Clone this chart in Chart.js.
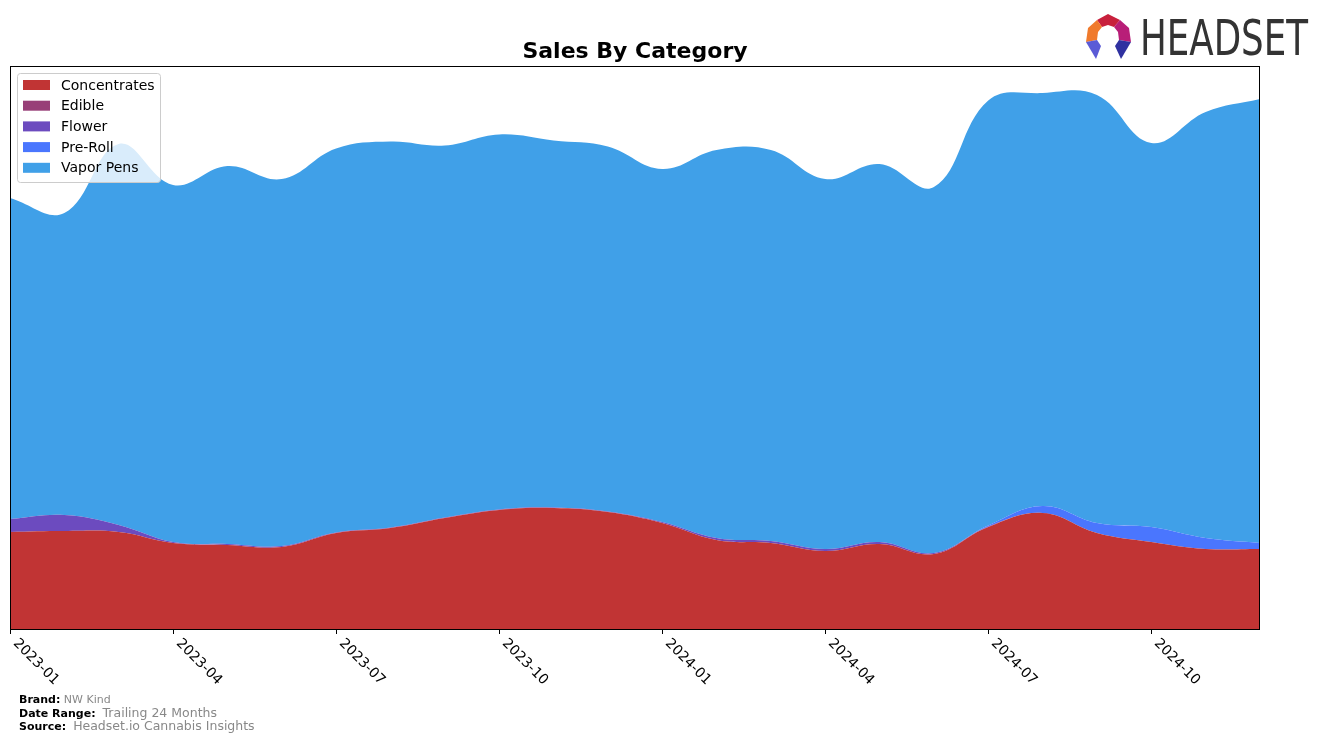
<!DOCTYPE html>
<html>
<head>
<meta charset="utf-8">
<script src="https://cdn.jsdelivr.net/npm/chart.js@4.4.1/dist/chart.umd.min.js"></script>
<style>
  body { margin: 0; background: #fff; font-family: "DejaVu Sans", sans-serif; }
  #wrap { position: relative; width: 1324px; height: 743px; }
  #logo { position: absolute; left: 0; top: 0; }
  .foot { position: absolute; left: 19px; font-size: 11px; color: #000; white-space: nowrap; }
  .foot b { font-weight: bold; }
  .foot span { color: #888; }
</style>
</head>
<body>
<div id="wrap">
  <canvas id="chart" width="1324" height="743"></canvas>
  <svg id="logo" width="1324" height="70">
    <polygon points="1097,20 1108,14 1120,20 1114,27 1108,25 1102,27" fill="#c8203c"/>
    <polygon points="1097,20 1088,28 1086,42 1097,40 1098,32 1102,27" fill="#f07a2c"/>
    <polygon points="1120,20 1129,28 1131,42 1119,40 1118,32 1114,27" fill="#b81e78"/>
    <polygon points="1086,42 1097,40 1101,46 1096,59" fill="#5b5bd6"/>
    <polygon points="1131,42 1119,40 1115,46 1121,59" fill="#2f31a0"/>
    <text x="1140" y="55" font-family="DejaVu Sans" font-size="49" fill="#333" textLength="168" lengthAdjust="spacingAndGlyphs">HEADSET</text>
  </svg>
  <div class="foot" style="top:693px"><b>Brand:</b> <span>NW Kind</span></div>
  <div class="foot" style="top:705px"><b>Date Range:</b>&nbsp; <span style="font-size:12.5px">Trailing 24 Months</span></div>
  <div class="foot" style="top:718px"><b>Source:</b>&nbsp; <span style="font-size:12.5px">Headset.io Cannabis Insights</span></div>
</div>
<script>
// months on the x axis
const months = ['2023-01','2023-02','2023-03','2023-04','2023-05','2023-06','2023-07','2023-08','2023-09','2023-10','2023-11','2023-12',
                '2024-01','2024-02','2024-03','2024-04','2024-05','2024-06','2024-07','2024-08','2024-09','2024-10','2024-11','2024-12'];
const tickLabels = ['2023-01','2023-04','2023-07','2023-10','2024-01','2024-04','2024-07','2024-10'];

// sales by category (relative units)
const concentrates = [97, 98, 97, 86, 84, 82, 96, 101, 111, 119, 121, 117, 106, 89, 86, 78, 85, 75, 102, 116, 96, 87, 80, 80];
const edible       = [0, 0, 0, 0, 0, 0, 0, 0, 0, 0, 0, 0, 0, 0, 0, 0, 0, 0, 0, 0, 0, 0, 0, 0];
const flower       = [13, 16, 7, 1, 1, 1, 0.5, 0.5, 0.5, 0.5, 0.5, 0.5, 1, 2, 2, 2, 2, 1, 0.5, 0, 0, 0, 0, 0];
const preRoll      = [0, 0, 0, 0, 0, 0, 0, 0, 0, 0, 0, 0, 0, 0, 0, 0, 0, 0, 1, 7, 10, 15, 11, 6];
const vaporPens    = [321, 302, 381, 357, 378, 367, 384, 386, 372, 375, 367, 365, 353, 388, 391, 370, 378, 366, 425, 413, 428, 384, 426, 444];

const categories = ['Concentrates', 'Edible', 'Flower', 'Pre-Roll', 'Vapor Pens'];
const colors = ['#c13434', '#983f78', '#6c4bbf', '#4a76fe', '#40a0e8'];
const series = [concentrates, edible, flower, preRoll, vaporPens];

const datasets = series.map((d, i) => ({
  label: categories[i],
  data: d,
  backgroundColor: colors[i],
  borderColor: colors[i],
  borderWidth: 0,
  pointRadius: 0,
  tension: 0.4,
  fill: i === 0 ? 'origin' : '-1'
}));

const decor = {
  id: 'decor',
  afterDraw(chart) {
    const ctx = chart.ctx;
    const a = chart.chartArea;
    const x = chart.scales.x;
    ctx.save();
    // frame
    ctx.strokeStyle = '#000';
    ctx.lineWidth = 1;
    ctx.strokeRect(a.left + 0.5, a.top + 0.5, a.right - a.left - 1, a.bottom - a.top);
    // title
    ctx.fillStyle = '#000';
    ctx.font = 'bold 22px "DejaVu Sans"';
    ctx.textAlign = 'center';
    ctx.textBaseline = 'alphabetic';
    ctx.fillText('Sales By Category', (a.left + a.right) / 2, 58);
    // x ticks and rotated labels
    ctx.font = '14px "DejaVu Sans"';
    ctx.textAlign = 'left';
    ctx.textBaseline = 'top';
    tickLabels.forEach(lbl => {
      const px = Math.round(x.getPixelForValue(months.indexOf(lbl))) + 0.5;
      ctx.beginPath();
      ctx.moveTo(px, a.bottom);
      ctx.lineTo(px, a.bottom + 5);
      ctx.stroke();
      ctx.save();
      ctx.translate(px + 4, a.bottom + 13);
      ctx.rotate(Math.PI / 4);
      ctx.fillText(lbl, 0, -8);
      ctx.restore();
    });
    // legend
    ctx.fillStyle = 'rgba(255,255,255,0.8)';
    ctx.strokeStyle = '#cccccc';
    ctx.beginPath();
    ctx.roundRect(17.5, 73.5, 143, 109, 3);
    ctx.fill();
    ctx.stroke();
    ctx.font = '14px "DejaVu Sans"';
    ctx.textBaseline = 'middle';
    categories.forEach((c, i) => {
      const cy = 85 + i * 20.7;
      ctx.fillStyle = colors[i];
      ctx.fillRect(23, cy - 5, 27, 10);
      ctx.fillStyle = '#000';
      ctx.fillText(c, 61, cy + 1);
    });
    ctx.restore();
  }
};

new Chart(document.getElementById('chart'), {
  type: 'line',
  data: { labels: months, datasets },
  options: {
    responsive: false,
    animation: false,
    layout: { padding: { left: 10, right: 64, top: 66, bottom: 114 } },
    plugins: { legend: { display: false }, tooltip: { enabled: false } },
    scales: {
      x: { display: false, offset: false },
      y: { display: false, stacked: true, min: 0, max: 563 }
    }
  },
  plugins: [decor]
});
</script>
</body>
</html>
